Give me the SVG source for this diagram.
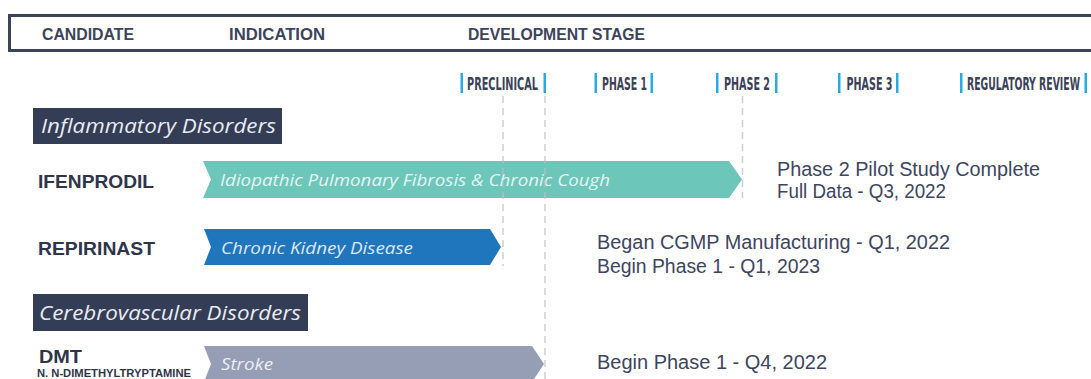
<svg xmlns="http://www.w3.org/2000/svg" width="1091" height="379" viewBox="0 0 1091 379">
<style>
.hdr{font-family:"Liberation Sans",Arial,sans-serif;font-weight:bold;font-size:16px;fill:#3b4459}
.ph{font-family:"Liberation Sans Narrow","DejaVu Sans Condensed","Liberation Sans",sans-serif;font-weight:bold;font-size:18.5px;fill:#3a4257}
.bar{fill:#29abe2}
.cat{fill:#343d56}
.catt{font-family:"Open Sans","Liberation Sans",sans-serif;font-style:italic;font-size:20px;fill:#e9ebf1}
.cand{font-family:"Liberation Sans",Arial,sans-serif;font-weight:bold;font-size:19px;fill:#2f3548}
.sub{font-family:"Liberation Sans",Arial,sans-serif;font-weight:bold;font-size:10.5px;fill:#2f3548}
.ind{font-family:"Open Sans","Liberation Sans",sans-serif;font-style:italic;font-size:17px;fill:#ffffff;fill-opacity:0.85}
.note{font-family:"Liberation Sans",Arial,sans-serif;font-size:20px;fill:#3d4560}
.guide{stroke:#bdbdbd;stroke-width:1.5;stroke-dasharray:7 5;fill:none;stroke-opacity:0.75}
</style>

<g id="header">
<rect x="9.5" y="15.5" width="1100" height="35" fill="#ffffff" stroke="#3b4358" stroke-width="3"/>
<text class="hdr" x="42" y="39.5" textLength="92" lengthAdjust="spacingAndGlyphs">CANDIDATE</text>
<text class="hdr" x="229" y="39.5" textLength="96" lengthAdjust="spacingAndGlyphs">INDICATION</text>
<text class="hdr" x="468" y="39.5" textLength="177" lengthAdjust="spacingAndGlyphs">DEVELOPMENT STAGE</text>
</g>

<g id="stages">
<rect class="bar" x="460.5" y="73" width="2.5" height="20"/>
<text class="ph" x="467" y="89.5" textLength="71" lengthAdjust="spacingAndGlyphs">PRECLINICAL</text>
<rect class="bar" x="543.5" y="73" width="2.5" height="20"/>
<rect class="bar" x="594.5" y="73" width="2.5" height="20"/>
<text class="ph" x="602" y="89.5" textLength="45" lengthAdjust="spacingAndGlyphs">PHASE 1</text>
<rect class="bar" x="650.5" y="73" width="2.5" height="20"/>
<rect class="bar" x="716" y="73" width="2.5" height="20"/>
<text class="ph" x="724" y="89.5" textLength="46" lengthAdjust="spacingAndGlyphs">PHASE 2</text>
<rect class="bar" x="775" y="73" width="2.5" height="20"/>
<rect class="bar" x="838" y="73" width="2.5" height="20"/>
<text class="ph" x="846.5" y="89.5" textLength="46" lengthAdjust="spacingAndGlyphs">PHASE 3</text>
<rect class="bar" x="896" y="73" width="2.5" height="20"/>
<rect class="bar" x="960" y="73" width="2.5" height="20"/>
<text class="ph" x="967" y="89.5" textLength="113" lengthAdjust="spacingAndGlyphs">REGULATORY REVIEW</text>
<rect class="bar" x="1084.5" y="73" width="2.5" height="20"/>
</g>

<g id="cat-inflammatory">
<rect class="cat" x="33" y="108" width="249" height="36"/>
<text class="catt" x="41" y="133" textLength="235" lengthAdjust="spacingAndGlyphs">Inflammatory Disorders</text>
</g>

<g id="cat-cerebrovascular">
<rect class="cat" x="33" y="294" width="275" height="37"/>
<text class="catt" x="39" y="319.5" textLength="262" lengthAdjust="spacingAndGlyphs">Cerebrovascular Disorders</text>
</g>

<g id="ifenprodil">
<text class="cand" x="38" y="187.5" textLength="116" lengthAdjust="spacingAndGlyphs">IFENPRODIL</text>
<polygon points="203,161 729,161 742,179.5 729,198 203,198 211,179.5" fill="#6cc6b9"/>
<text class="ind" x="220" y="186" textLength="390" lengthAdjust="spacingAndGlyphs">Idiopathic Pulmonary Fibrosis &amp; Chronic Cough</text>
<text class="note" x="777" y="176" textLength="263" lengthAdjust="spacingAndGlyphs">Phase 2 Pilot Study Complete</text>
<text class="note" x="777" y="198" textLength="169" lengthAdjust="spacingAndGlyphs">Full Data - Q3, 2022</text>
</g>

<g id="repirinast">
<text class="cand" x="38" y="255" textLength="117" lengthAdjust="spacingAndGlyphs">REPIRINAST</text>
<polygon points="204,229 490,229 501,247 490,265 204,265 211,247" fill="#1f76bc"/>
<text class="ind" x="221" y="254" textLength="192" lengthAdjust="spacingAndGlyphs">Chronic Kidney Disease</text>
<text class="note" x="597" y="249" textLength="353" lengthAdjust="spacingAndGlyphs">Began CGMP Manufacturing - Q1, 2022</text>
<text class="note" x="597" y="272.5" textLength="223" lengthAdjust="spacingAndGlyphs">Begin Phase 1 - Q1, 2023</text>
</g>

<g id="dmt">
<text class="cand" x="39" y="362.5" textLength="43" lengthAdjust="spacingAndGlyphs">DMT</text>
<text class="sub" x="37" y="377" textLength="154" lengthAdjust="spacingAndGlyphs">N. N-DIMETHYLTRYPTAMINE</text>
<polygon points="204,346 532,346 544,364 532,382 204,382 211,364" fill="#959eb5"/>
<text class="ind" x="221" y="370" textLength="52" lengthAdjust="spacingAndGlyphs">Stroke</text>
<text class="note" x="597" y="369" textLength="230" lengthAdjust="spacingAndGlyphs">Begin Phase 1 - Q4, 2022</text>
</g>

<g id="guides">
<line class="guide" x1="503" y1="96" x2="503" y2="266"/>
<line class="guide" x1="545" y1="96" x2="545" y2="379"/>
<line class="guide" x1="742.5" y1="96" x2="742.5" y2="198"/>
</g>
</svg>
